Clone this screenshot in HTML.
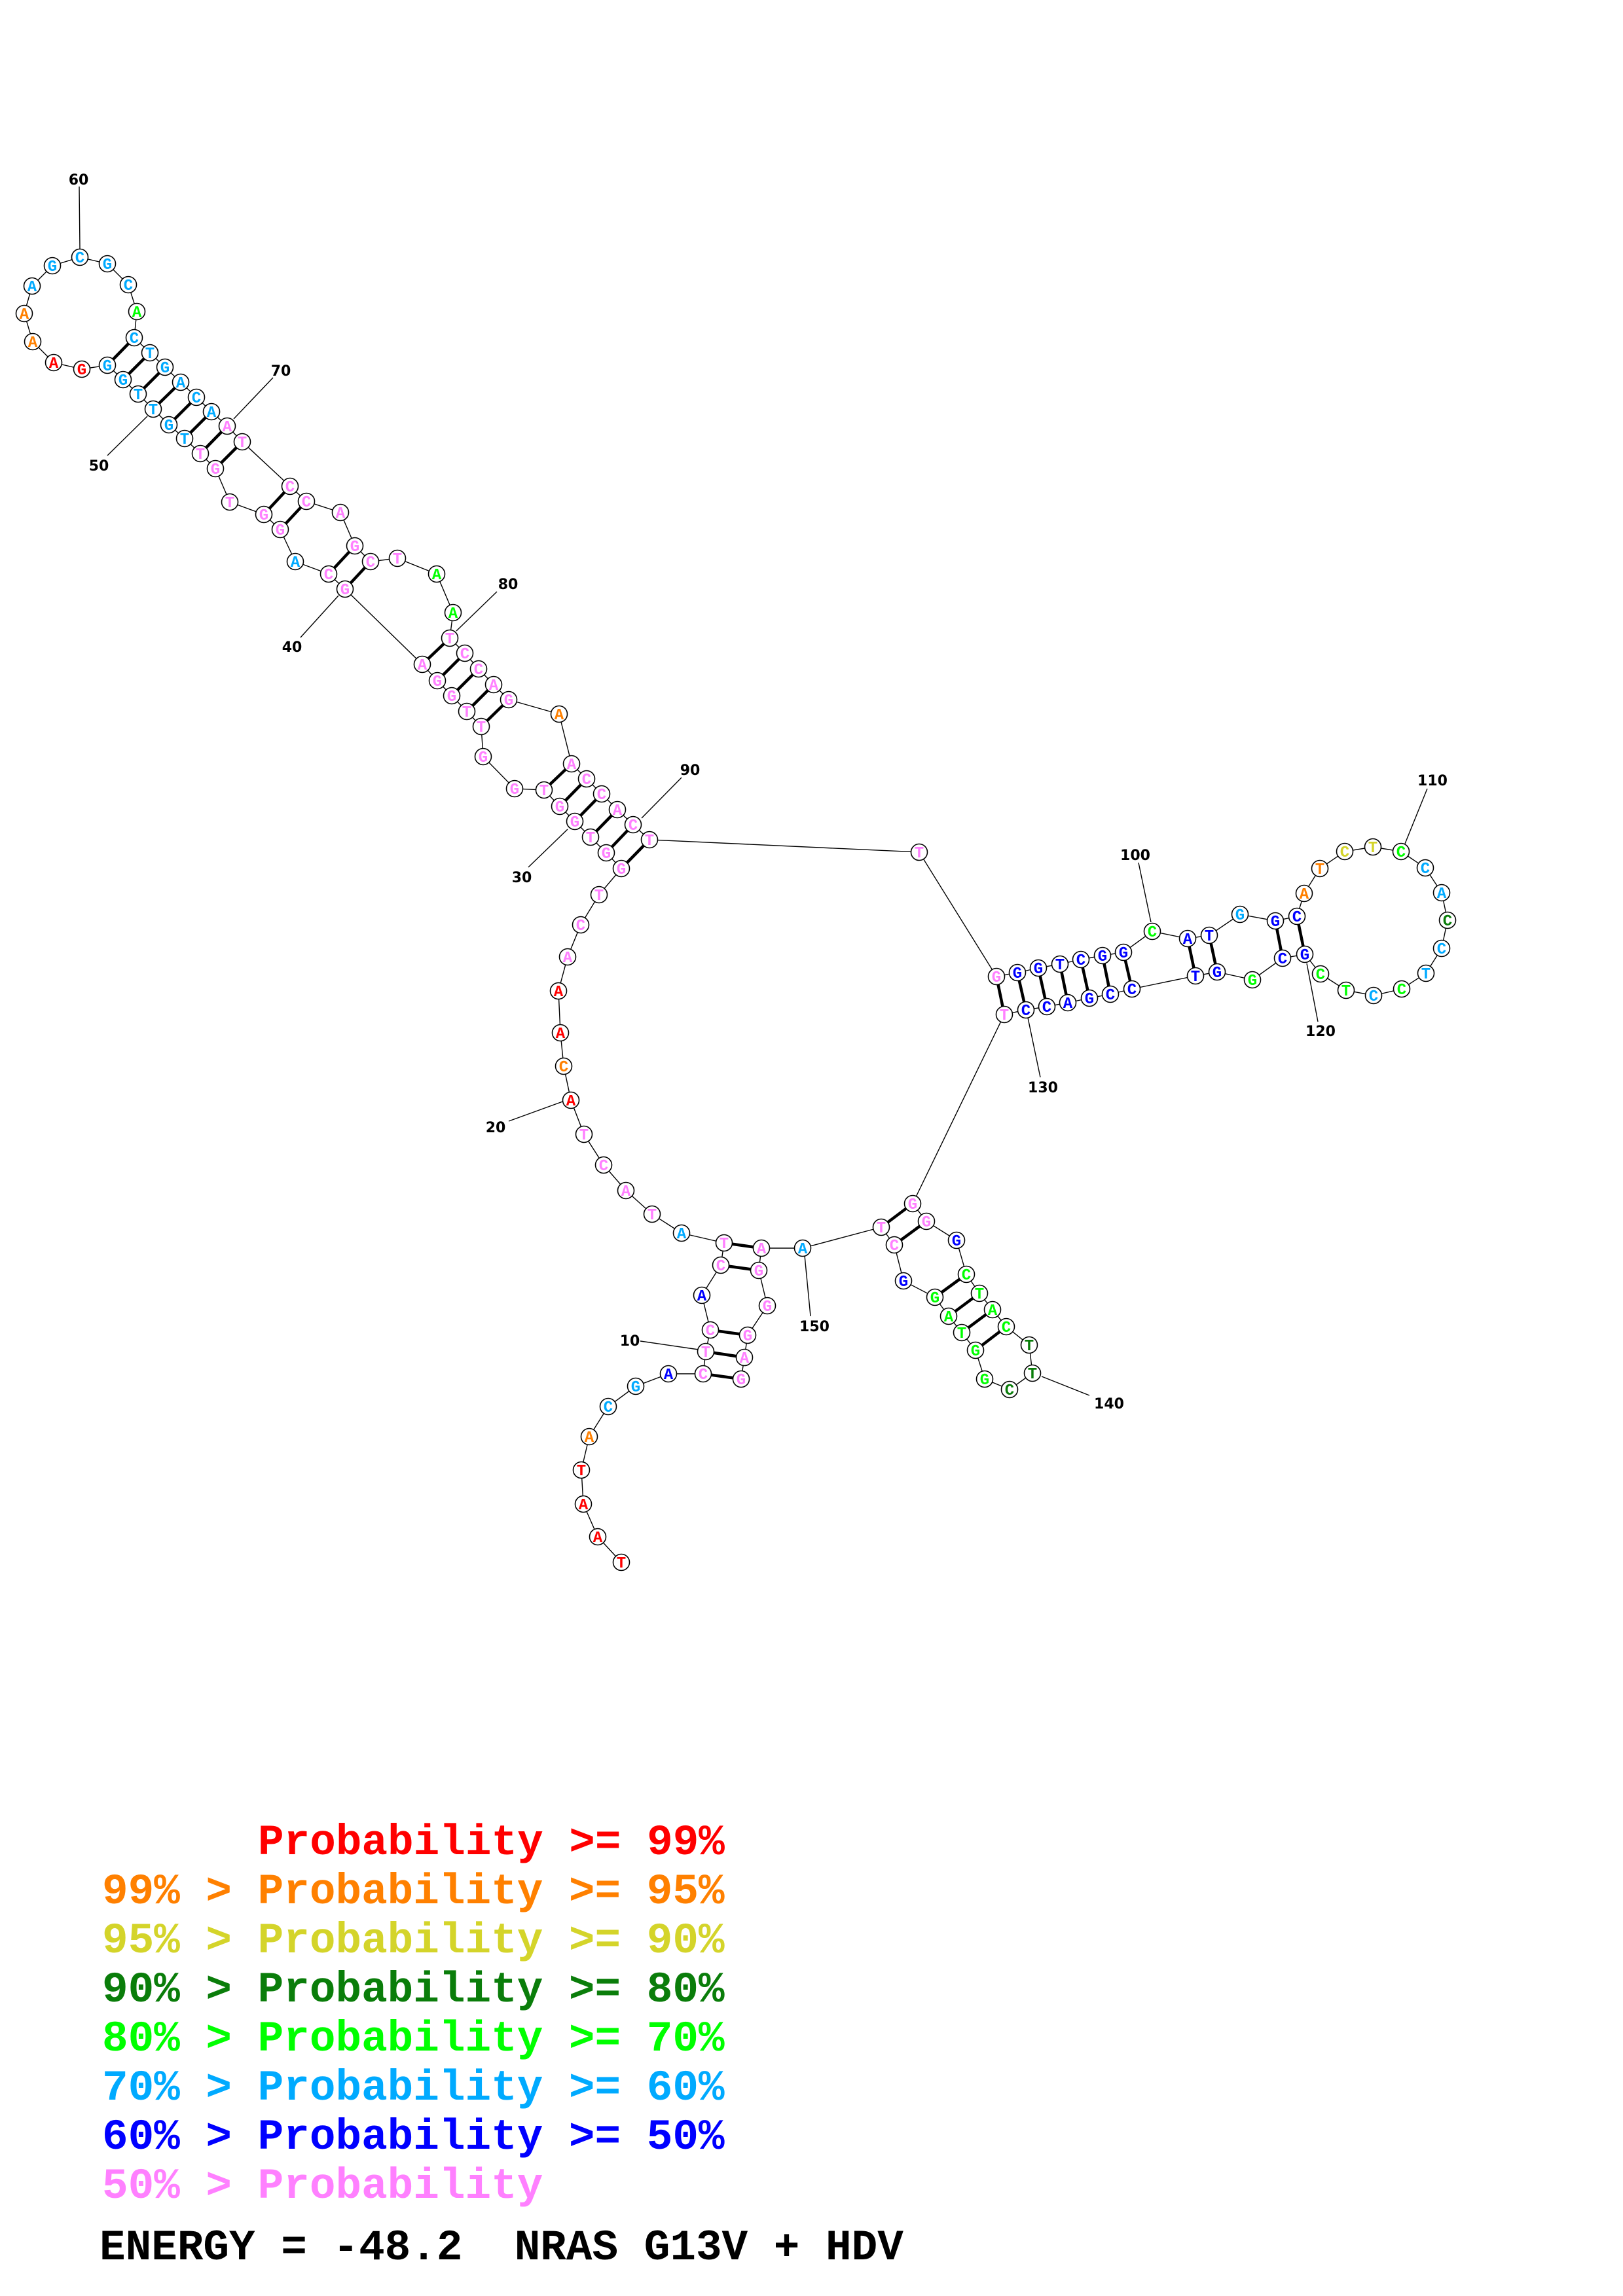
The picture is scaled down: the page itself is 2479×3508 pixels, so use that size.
<!DOCTYPE html>
<html><head><meta charset="utf-8"><style>
html,body{margin:0;padding:0;background:#fff;}
svg{display:block}
circle{fill:#fff;stroke:#000;stroke-width:1.6}
.n{font-family:"Liberation Mono",monospace;font-weight:bold;font-size:24px;text-anchor:middle}
.r{fill:#ff0000}.o{fill:#ff8000}.y{fill:#d4d42a}.d{fill:#0a7d0a}.g{fill:#00ff00}.l{fill:#00aaff}.b{fill:#0000ff}.p{fill:#ff80ff}
.lb{font-family:"DejaVu Sans","Liberation Sans",sans-serif;font-weight:bold;font-size:22px;fill:#000;text-anchor:middle}
.lg{font-family:"Liberation Mono",monospace;font-weight:bold;font-size:66px;white-space:pre}
</style></head><body>
<svg width="2479" height="3508" viewBox="0 0 2479 3508" xmlns="http://www.w3.org/2000/svg">
<polyline fill="none" stroke="#000" stroke-width="1.4" points="949,2387 913,2348 891,2298 888,2246 900,2195 929,2149 971,2118 1021,2099 1074,2099 1078,2065 1085,2032 1072,1979 1101,1933 1106,1899 1041,1884 996,1855 956,1819 922,1780 892,1733 872,1681 861,1629 856,1578 853,1514 867,1462 887,1413 915,1367 949,1327 926,1303 902,1279 878,1255 855,1232 831,1207 786,1205 738,1156 735,1110 713,1087 690,1063 668,1040 645,1015 527,900 502,877 451,858 428,809 403,786 351,767 329,716 306,693 282,670 258,649 234,625 211,602 188,580 164,558 125,564 82,554 50,522 37,479 49,437 80,406 122,393 164,403 196,435 209,476 205,516 229,539 252,561 276,584 300,607 323,629 347,651 370,675 443,743 468,766 520,783 542,834 566,858 607,853 667,877 692,936 687,975 710,998 731,1022 754,1046 777,1069 854,1091 873,1167 896,1190 919,1213 943,1237 967,1260 992,1283 1404,1302 1522,1492 1554,1486 1586,1479 1619,1473 1651,1466 1684,1460 1716,1455 1760,1423 1814,1434 1847,1429 1894,1397 1948,1407 1981,1400 1992,1365 2016,1327 2054,1301 2097,1294 2140,1301 2177,1326 2202,1364 2211,1406 2202,1449 2178,1487 2141,1511 2098,1521 2056,1513 2017,1488 1993,1458 1959,1464 1913,1497 1859,1485 1826,1491 1729,1511 1696,1519 1664,1525 1631,1532 1599,1538 1567,1543 1534,1550 1394,1839 1415,1866 1461,1895 1476,1947 1496,1976 1516,2001 1537,2027 1572,2055 1577,2098 1542,2123 1504,2107 1490,2063 1469,2036 1449,2011 1428,1982 1380,1957 1366,1902 1346,1875 1226,1907 1163,1907 1159,1941 1172,1995 1142,2040 1137,2074 1132,2107"/>
<g stroke="#000" stroke-width="4.5">
<line x1="205" y1="516" x2="164" y2="558"/><line x1="229" y1="539" x2="188" y2="580"/><line x1="252" y1="561" x2="211" y2="602"/><line x1="276" y1="584" x2="234" y2="625"/><line x1="300" y1="607" x2="258" y2="649"/><line x1="323" y1="629" x2="282" y2="670"/><line x1="347" y1="651" x2="306" y2="693"/><line x1="370" y1="675" x2="329" y2="716"/>
<line x1="443" y1="743" x2="403" y2="786"/><line x1="468" y1="766" x2="428" y2="809"/>
<line x1="542" y1="834" x2="502" y2="877"/><line x1="566" y1="858" x2="527" y2="900"/>
<line x1="687" y1="975" x2="645" y2="1015"/><line x1="710" y1="998" x2="668" y2="1040"/><line x1="731" y1="1022" x2="690" y2="1063"/><line x1="754" y1="1046" x2="713" y2="1087"/><line x1="777" y1="1069" x2="735" y2="1110"/>
<line x1="873" y1="1167" x2="831" y2="1207"/><line x1="896" y1="1190" x2="855" y2="1232"/><line x1="919" y1="1213" x2="878" y2="1255"/><line x1="943" y1="1237" x2="902" y2="1279"/><line x1="967" y1="1260" x2="926" y2="1303"/><line x1="992" y1="1283" x2="949" y2="1327"/>
<line x1="1522" y1="1492" x2="1534" y2="1550"/><line x1="1554" y1="1486" x2="1567" y2="1543"/><line x1="1586" y1="1479" x2="1599" y2="1538"/><line x1="1619" y1="1473" x2="1631" y2="1532"/><line x1="1651" y1="1466" x2="1664" y2="1525"/><line x1="1684" y1="1460" x2="1696" y2="1519"/><line x1="1716" y1="1455" x2="1729" y2="1511"/>
<line x1="1814" y1="1434" x2="1826" y2="1491"/><line x1="1847" y1="1429" x2="1859" y2="1485"/>
<line x1="1948" y1="1407" x2="1959" y2="1464"/><line x1="1981" y1="1400" x2="1993" y2="1458"/>
<line x1="1394" y1="1839" x2="1346" y2="1875"/><line x1="1415" y1="1866" x2="1366" y2="1902"/><line x1="1476" y1="1947" x2="1428" y2="1982"/><line x1="1496" y1="1976" x2="1449" y2="2011"/><line x1="1516" y1="2001" x2="1469" y2="2036"/><line x1="1537" y1="2027" x2="1490" y2="2063"/>
<line x1="1106" y1="1899" x2="1163" y2="1907"/><line x1="1101" y1="1933" x2="1159" y2="1941"/><line x1="1085" y1="2032" x2="1142" y2="2040"/><line x1="1078" y1="2065" x2="1137" y2="2074"/><line x1="1074" y1="2099" x2="1132" y2="2107"/>
</g>
<g stroke="#000" stroke-width="1.4">
<line x1="121" y1="285" x2="122" y2="380"/><line x1="164" y1="696" x2="225" y2="636"/><line x1="417" y1="577" x2="357" y2="640"/><line x1="459" y1="974" x2="517" y2="910"/><line x1="759" y1="904" x2="697" y2="964"/><line x1="807" y1="1325" x2="867" y2="1267"/><line x1="1041" y1="1188" x2="980" y2="1250"/><line x1="777" y1="1713" x2="865" y2="1681"/><line x1="978" y1="2049" x2="1067" y2="2062"/><line x1="1229" y1="1918" x2="1238" y2="2011"/><line x1="1591" y1="2103" x2="1664" y2="2132"/><line x1="1739" y1="1318" x2="1758" y2="1409"/><line x1="2180" y1="1205" x2="2146" y2="1289"/><line x1="2013" y1="1561" x2="1996" y2="1472"/><line x1="1589" y1="1646" x2="1570" y2="1555"/>
</g>
<g class="lb">
<text x="120" y="282">60</text><text x="151" y="719">50</text><text x="429" y="574">70</text><text x="446" y="996">40</text><text x="776" y="900">80</text><text x="797" y="1348">30</text><text x="1054" y="1184">90</text><text x="757" y="1730">20</text><text x="962" y="2056">10</text><text x="1244" y="2034">150</text><text x="1694" y="2152">140</text><text x="1734" y="1314">100</text><text x="2188" y="1200">110</text><text x="2017" y="1583">120</text><text x="1593" y="1669">130</text>
</g>
<g>
<circle cx="949" cy="2387" r="12.5"/><circle cx="913" cy="2348" r="12.5"/><circle cx="891" cy="2298" r="12.5"/><circle cx="888" cy="2246" r="12.5"/><circle cx="900" cy="2195" r="12.5"/><circle cx="929" cy="2149" r="12.5"/><circle cx="971" cy="2118" r="12.5"/><circle cx="1021" cy="2099" r="12.5"/><circle cx="1074" cy="2099" r="12.5"/><circle cx="1078" cy="2065" r="12.5"/><circle cx="1085" cy="2032" r="12.5"/><circle cx="1072" cy="1979" r="12.5"/><circle cx="1101" cy="1933" r="12.5"/><circle cx="1106" cy="1899" r="12.5"/><circle cx="1041" cy="1884" r="12.5"/><circle cx="996" cy="1855" r="12.5"/><circle cx="956" cy="1819" r="12.5"/><circle cx="922" cy="1780" r="12.5"/><circle cx="892" cy="1733" r="12.5"/><circle cx="872" cy="1681" r="12.5"/><circle cx="861" cy="1629" r="12.5"/><circle cx="856" cy="1578" r="12.5"/><circle cx="853" cy="1514" r="12.5"/><circle cx="867" cy="1462" r="12.5"/><circle cx="887" cy="1413" r="12.5"/><circle cx="915" cy="1367" r="12.5"/><circle cx="949" cy="1327" r="12.5"/><circle cx="926" cy="1303" r="12.5"/><circle cx="902" cy="1279" r="12.5"/><circle cx="878" cy="1255" r="12.5"/><circle cx="855" cy="1232" r="12.5"/><circle cx="831" cy="1207" r="12.5"/><circle cx="786" cy="1205" r="12.5"/><circle cx="738" cy="1156" r="12.5"/><circle cx="735" cy="1110" r="12.5"/><circle cx="713" cy="1087" r="12.5"/><circle cx="690" cy="1063" r="12.5"/><circle cx="668" cy="1040" r="12.5"/><circle cx="645" cy="1015" r="12.5"/><circle cx="527" cy="900" r="12.5"/><circle cx="502" cy="877" r="12.5"/><circle cx="451" cy="858" r="12.5"/><circle cx="428" cy="809" r="12.5"/><circle cx="403" cy="786" r="12.5"/><circle cx="351" cy="767" r="12.5"/><circle cx="329" cy="716" r="12.5"/><circle cx="306" cy="693" r="12.5"/><circle cx="282" cy="670" r="12.5"/><circle cx="258" cy="649" r="12.5"/><circle cx="234" cy="625" r="12.5"/><circle cx="211" cy="602" r="12.5"/><circle cx="188" cy="580" r="12.5"/><circle cx="164" cy="558" r="12.5"/><circle cx="125" cy="564" r="12.5"/><circle cx="82" cy="554" r="12.5"/><circle cx="50" cy="522" r="12.5"/><circle cx="37" cy="479" r="12.5"/><circle cx="49" cy="437" r="12.5"/><circle cx="80" cy="406" r="12.5"/><circle cx="122" cy="393" r="12.5"/><circle cx="164" cy="403" r="12.5"/><circle cx="196" cy="435" r="12.5"/><circle cx="209" cy="476" r="12.5"/><circle cx="205" cy="516" r="12.5"/><circle cx="229" cy="539" r="12.5"/><circle cx="252" cy="561" r="12.5"/><circle cx="276" cy="584" r="12.5"/><circle cx="300" cy="607" r="12.5"/><circle cx="323" cy="629" r="12.5"/><circle cx="347" cy="651" r="12.5"/><circle cx="370" cy="675" r="12.5"/><circle cx="443" cy="743" r="12.5"/><circle cx="468" cy="766" r="12.5"/><circle cx="520" cy="783" r="12.5"/><circle cx="542" cy="834" r="12.5"/><circle cx="566" cy="858" r="12.5"/><circle cx="607" cy="853" r="12.5"/><circle cx="667" cy="877" r="12.5"/><circle cx="692" cy="936" r="12.5"/><circle cx="687" cy="975" r="12.5"/><circle cx="710" cy="998" r="12.5"/><circle cx="731" cy="1022" r="12.5"/><circle cx="754" cy="1046" r="12.5"/><circle cx="777" cy="1069" r="12.5"/><circle cx="854" cy="1091" r="12.5"/><circle cx="873" cy="1167" r="12.5"/><circle cx="896" cy="1190" r="12.5"/><circle cx="919" cy="1213" r="12.5"/><circle cx="943" cy="1237" r="12.5"/><circle cx="967" cy="1260" r="12.5"/><circle cx="992" cy="1283" r="12.5"/><circle cx="1404" cy="1302" r="12.5"/><circle cx="1522" cy="1492" r="12.5"/><circle cx="1554" cy="1486" r="12.5"/><circle cx="1586" cy="1479" r="12.5"/><circle cx="1619" cy="1473" r="12.5"/><circle cx="1651" cy="1466" r="12.5"/><circle cx="1684" cy="1460" r="12.5"/><circle cx="1716" cy="1455" r="12.5"/><circle cx="1760" cy="1423" r="12.5"/><circle cx="1814" cy="1434" r="12.5"/><circle cx="1847" cy="1429" r="12.5"/><circle cx="1894" cy="1397" r="12.5"/><circle cx="1948" cy="1407" r="12.5"/><circle cx="1981" cy="1400" r="12.5"/><circle cx="1992" cy="1365" r="12.5"/><circle cx="2016" cy="1327" r="12.5"/><circle cx="2054" cy="1301" r="12.5"/><circle cx="2097" cy="1294" r="12.5"/><circle cx="2140" cy="1301" r="12.5"/><circle cx="2177" cy="1326" r="12.5"/><circle cx="2202" cy="1364" r="12.5"/><circle cx="2211" cy="1406" r="12.5"/><circle cx="2202" cy="1449" r="12.5"/><circle cx="2178" cy="1487" r="12.5"/><circle cx="2141" cy="1511" r="12.5"/><circle cx="2098" cy="1521" r="12.5"/><circle cx="2056" cy="1513" r="12.5"/><circle cx="2017" cy="1488" r="12.5"/><circle cx="1993" cy="1458" r="12.5"/><circle cx="1959" cy="1464" r="12.5"/><circle cx="1913" cy="1497" r="12.5"/><circle cx="1859" cy="1485" r="12.5"/><circle cx="1826" cy="1491" r="12.5"/><circle cx="1729" cy="1511" r="12.5"/><circle cx="1696" cy="1519" r="12.5"/><circle cx="1664" cy="1525" r="12.5"/><circle cx="1631" cy="1532" r="12.5"/><circle cx="1599" cy="1538" r="12.5"/><circle cx="1567" cy="1543" r="12.5"/><circle cx="1534" cy="1550" r="12.5"/><circle cx="1394" cy="1839" r="12.5"/><circle cx="1415" cy="1866" r="12.5"/><circle cx="1461" cy="1895" r="12.5"/><circle cx="1476" cy="1947" r="12.5"/><circle cx="1496" cy="1976" r="12.5"/><circle cx="1516" cy="2001" r="12.5"/><circle cx="1537" cy="2027" r="12.5"/><circle cx="1572" cy="2055" r="12.5"/><circle cx="1577" cy="2098" r="12.5"/><circle cx="1542" cy="2123" r="12.5"/><circle cx="1504" cy="2107" r="12.5"/><circle cx="1490" cy="2063" r="12.5"/><circle cx="1469" cy="2036" r="12.5"/><circle cx="1449" cy="2011" r="12.5"/><circle cx="1428" cy="1982" r="12.5"/><circle cx="1380" cy="1957" r="12.5"/><circle cx="1366" cy="1902" r="12.5"/><circle cx="1346" cy="1875" r="12.5"/><circle cx="1226" cy="1907" r="12.5"/><circle cx="1163" cy="1907" r="12.5"/><circle cx="1159" cy="1941" r="12.5"/><circle cx="1172" cy="1995" r="12.5"/><circle cx="1142" cy="2040" r="12.5"/><circle cx="1137" cy="2074" r="12.5"/><circle cx="1132" cy="2107" r="12.5"/>
</g>
<g class="n">
<text class="r" x="949" y="2395">T</text><text class="r" x="913" y="2356">A</text><text class="r" x="891" y="2306">A</text><text class="r" x="888" y="2254">T</text><text class="o" x="900" y="2203">A</text><text class="l" x="929" y="2157">C</text><text class="l" x="971" y="2126">G</text><text class="b" x="1021" y="2107">A</text><text class="p" x="1074" y="2107">C</text><text class="p" x="1078" y="2073">T</text><text class="p" x="1085" y="2040">C</text><text class="b" x="1072" y="1987">A</text><text class="p" x="1101" y="1941">C</text><text class="p" x="1106" y="1907">T</text><text class="l" x="1041" y="1892">A</text><text class="p" x="996" y="1863">T</text><text class="p" x="956" y="1827">A</text><text class="p" x="922" y="1788">C</text><text class="p" x="892" y="1741">T</text><text class="r" x="872" y="1689">A</text><text class="o" x="861" y="1637">C</text><text class="r" x="856" y="1586">A</text><text class="r" x="853" y="1522">A</text><text class="p" x="867" y="1470">A</text><text class="p" x="887" y="1421">C</text><text class="p" x="915" y="1375">T</text><text class="p" x="949" y="1335">G</text><text class="p" x="926" y="1311">G</text><text class="p" x="902" y="1287">T</text><text class="p" x="878" y="1263">G</text><text class="p" x="855" y="1240">G</text><text class="p" x="831" y="1215">T</text><text class="p" x="786" y="1213">G</text><text class="p" x="738" y="1164">G</text><text class="p" x="735" y="1118">T</text><text class="p" x="713" y="1095">T</text><text class="p" x="690" y="1071">G</text><text class="p" x="668" y="1048">G</text><text class="p" x="645" y="1023">A</text><text class="p" x="527" y="908">G</text><text class="p" x="502" y="885">C</text><text class="l" x="451" y="866">A</text><text class="p" x="428" y="817">G</text><text class="p" x="403" y="794">G</text><text class="p" x="351" y="775">T</text><text class="p" x="329" y="724">G</text><text class="p" x="306" y="701">T</text><text class="l" x="282" y="678">T</text><text class="l" x="258" y="657">G</text><text class="l" x="234" y="633">T</text><text class="l" x="211" y="610">T</text><text class="l" x="188" y="588">G</text><text class="l" x="164" y="566">G</text><text class="r" x="125" y="572">G</text><text class="r" x="82" y="562">A</text><text class="o" x="50" y="530">A</text><text class="o" x="37" y="487">A</text><text class="l" x="49" y="445">A</text><text class="l" x="80" y="414">G</text><text class="l" x="122" y="401">C</text><text class="l" x="164" y="411">G</text><text class="l" x="196" y="443">C</text><text class="g" x="209" y="484">A</text><text class="l" x="205" y="524">C</text><text class="l" x="229" y="547">T</text><text class="l" x="252" y="569">G</text><text class="l" x="276" y="592">A</text><text class="l" x="300" y="615">C</text><text class="l" x="323" y="637">A</text><text class="p" x="347" y="659">A</text><text class="p" x="370" y="683">T</text><text class="p" x="443" y="751">C</text><text class="p" x="468" y="774">C</text><text class="p" x="520" y="791">A</text><text class="p" x="542" y="842">G</text><text class="p" x="566" y="866">C</text><text class="p" x="607" y="861">T</text><text class="g" x="667" y="885">A</text><text class="g" x="692" y="944">A</text><text class="p" x="687" y="983">T</text><text class="p" x="710" y="1006">C</text><text class="p" x="731" y="1030">C</text><text class="p" x="754" y="1054">A</text><text class="p" x="777" y="1077">G</text><text class="o" x="854" y="1099">A</text><text class="p" x="873" y="1175">A</text><text class="p" x="896" y="1198">C</text><text class="p" x="919" y="1221">C</text><text class="p" x="943" y="1245">A</text><text class="p" x="967" y="1268">C</text><text class="p" x="992" y="1291">T</text><text class="p" x="1404" y="1310">T</text><text class="p" x="1522" y="1500">G</text><text class="b" x="1554" y="1494">G</text><text class="b" x="1586" y="1487">G</text><text class="b" x="1619" y="1481">T</text><text class="b" x="1651" y="1474">C</text><text class="b" x="1684" y="1468">G</text><text class="b" x="1716" y="1463">G</text><text class="g" x="1760" y="1431">C</text><text class="b" x="1814" y="1442">A</text><text class="b" x="1847" y="1437">T</text><text class="l" x="1894" y="1405">G</text><text class="b" x="1948" y="1415">G</text><text class="b" x="1981" y="1408">C</text><text class="o" x="1992" y="1373">A</text><text class="o" x="2016" y="1335">T</text><text class="y" x="2054" y="1309">C</text><text class="y" x="2097" y="1302">T</text><text class="g" x="2140" y="1309">C</text><text class="l" x="2177" y="1334">C</text><text class="l" x="2202" y="1372">A</text><text class="d" x="2211" y="1414">C</text><text class="l" x="2202" y="1457">C</text><text class="l" x="2178" y="1495">T</text><text class="g" x="2141" y="1519">C</text><text class="l" x="2098" y="1529">C</text><text class="g" x="2056" y="1521">T</text><text class="g" x="2017" y="1496">C</text><text class="b" x="1993" y="1466">G</text><text class="b" x="1959" y="1472">C</text><text class="g" x="1913" y="1505">G</text><text class="b" x="1859" y="1493">G</text><text class="b" x="1826" y="1499">T</text><text class="b" x="1729" y="1519">C</text><text class="b" x="1696" y="1527">C</text><text class="b" x="1664" y="1533">G</text><text class="b" x="1631" y="1540">A</text><text class="b" x="1599" y="1546">C</text><text class="b" x="1567" y="1551">C</text><text class="p" x="1534" y="1558">T</text><text class="p" x="1394" y="1847">G</text><text class="p" x="1415" y="1874">G</text><text class="b" x="1461" y="1903">G</text><text class="g" x="1476" y="1955">C</text><text class="g" x="1496" y="1984">T</text><text class="g" x="1516" y="2009">A</text><text class="g" x="1537" y="2035">C</text><text class="d" x="1572" y="2063">T</text><text class="d" x="1577" y="2106">T</text><text class="d" x="1542" y="2131">C</text><text class="g" x="1504" y="2115">G</text><text class="g" x="1490" y="2071">G</text><text class="g" x="1469" y="2044">T</text><text class="g" x="1449" y="2019">A</text><text class="g" x="1428" y="1990">G</text><text class="b" x="1380" y="1965">G</text><text class="p" x="1366" y="1910">C</text><text class="p" x="1346" y="1883">T</text><text class="l" x="1226" y="1915">A</text><text class="p" x="1163" y="1915">A</text><text class="p" x="1159" y="1949">G</text><text class="p" x="1172" y="2003">G</text><text class="p" x="1142" y="2048">G</text><text class="p" x="1137" y="2082">A</text><text class="p" x="1132" y="2115">G</text>
</g>
<g class="lg">
<text x="394" y="2833" class="r">Probability &gt;= 99%</text>
<text x="156" y="2908" class="o">99% &gt; Probability &gt;= 95%</text>
<text x="156" y="2983" class="y">95% &gt; Probability &gt;= 90%</text>
<text x="156" y="3058" class="d">90% &gt; Probability &gt;= 80%</text>
<text x="156" y="3133" class="g">80% &gt; Probability &gt;= 70%</text>
<text x="156" y="3208" class="l">70% &gt; Probability &gt;= 60%</text>
<text x="156" y="3283" class="b">60% &gt; Probability &gt;= 50%</text>
<text x="156" y="3358" class="p">50% &gt; Probability</text>
<text x="152" y="3452" fill="#000">ENERGY = -48.2&#160;&#160;NRAS G13V + HDV</text>
</g>
</svg>
</body></html>
